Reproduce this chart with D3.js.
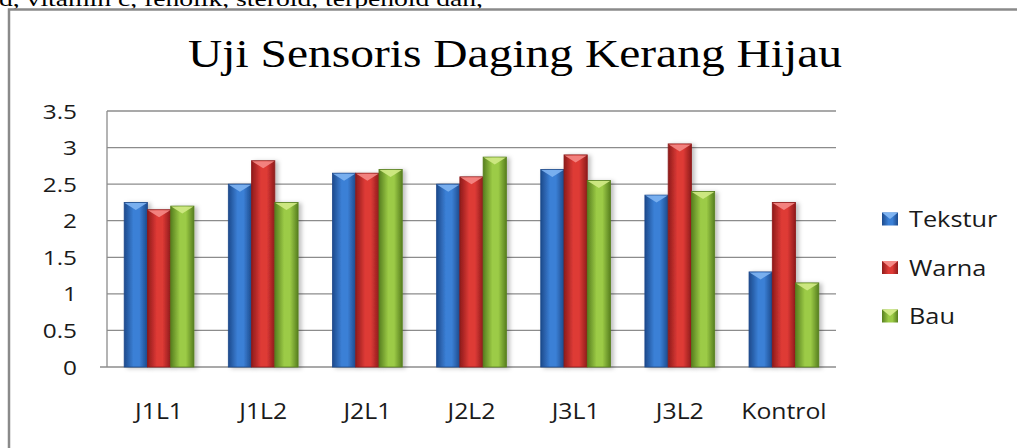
<!DOCTYPE html>
<html>
<head>
<meta charset="utf-8">
<script src="https://cdn.jsdelivr.net/npm/d3@7"></script>
<style>
  html, body { margin: 0; padding: 0; background: #fff; overflow: hidden; }
  svg { display: block; }
</style>
</head>
<body>
<svg id="chart" width="1017" height="448"></svg>
<script>
// ---- data ----
const categories = ["J1L1", "J1L2", "J2L1", "J2L2", "J3L1", "J3L2", "Kontrol"];
const seriesNames = ["Tekstur", "Warna", "Bau"];
const tekstur = [2.25, 2.5, 2.65, 2.5, 2.7, 2.35, 1.3];
const warna   = [2.15, 2.82, 2.65, 2.6, 2.9, 3.05, 2.25];
const bau     = [2.2, 2.25, 2.7, 2.87, 2.55, 2.4, 1.15];
const yTicks = [0, 0.5, 1, 1.5, 2, 2.5, 3, 3.5];
const titleText = "Uji Sensoris Daging Kerang Hijau";
const topLineText = "d, vitamin c, fenolik, steroid, terpenoid dan,";

const seriesValues = [tekstur, warna, bau];
const palette = [
  { edge: "#1d4a8c", mid: "#3b80d6", light: "#7fb4f2" },
  { edge: "#8e1b1b", mid: "#de3a36", light: "#f58a86" },
  { edge: "#577f1f", mid: "#9ccb46", light: "#d2ea86" }
];

const svg = d3.select("#chart");
const defs = svg.append("defs");

palette.forEach((p, i) => {
  const g = defs.append("linearGradient").attr("id", "grad" + i)
    .attr("x1", "0%").attr("x2", "100%").attr("y1", "0%").attr("y2", "0%");
  g.append("stop").attr("offset", "0%").attr("stop-color", p.edge);
  g.append("stop").attr("offset", "40%").attr("stop-color", p.mid);
  g.append("stop").attr("offset", "65%").attr("stop-color", p.mid);
  g.append("stop").attr("offset", "100%").attr("stop-color", p.edge);
});
const flt = defs.append("filter").attr("id", "shadow")
  .attr("x", "-20%").attr("y", "-10%").attr("width", "160%").attr("height", "130%");
flt.append("feDropShadow").attr("dx", 3).attr("dy", 1).attr("stdDeviation", 2)
  .attr("flood-color", "#000").attr("flood-opacity", 0.25);

// page text fragment at top
svg.append("text")
  .attr("x", -1).attr("y", 5.5)
  .attr("font-family", "Liberation Serif, Times New Roman, serif")
  .attr("font-size", 21)
  .attr("textLength", 484).attr("lengthAdjust", "spacingAndGlyphs")
  .attr("fill", "#000")
  .text(topLineText);

// chart frame
svg.append("rect")
  .attr("x", 9).attr("y", 9.5).attr("width", 1100).attr("height", 500)
  .attr("fill", "#fff").attr("stroke", "#8a8a8a").attr("stroke-width", 2.5);

// title
svg.append("text")
  .attr("x", 188).attr("y", 67)
  .attr("font-family", "Liberation Serif, Times New Roman, serif")
  .attr("font-size", 40)
  .attr("textLength", 654).attr("lengthAdjust", "spacingAndGlyphs")
  .attr("fill", "#000")
  .text(titleText);

// scales
const plotLeft = 107, plotRight = 836, plotTop = 111, plotBottom = 367;
const x = d3.scaleBand().domain(categories).range([plotLeft, plotRight])
  .paddingInner(0.33).paddingOuter(0.165);
const xs = d3.scaleBand().domain(seriesNames).range([0, x.bandwidth()]).padding(0);
const y = d3.scaleLinear().domain([0, 3.5]).range([plotBottom, plotTop]);

// gridlines
svg.append("g").selectAll("line").data(yTicks).join("line")
  .attr("x1", d => d === 0 ? plotLeft - 7 : plotLeft).attr("x2", plotRight)
  .attr("y1", d => y(d)).attr("y2", d => y(d))
  .attr("stroke", "#8c8c8c").attr("stroke-width", 1.3);
svg.append("line")
  .attr("x1", plotLeft).attr("x2", plotLeft).attr("y1", plotTop).attr("y2", plotBottom)
  .attr("stroke", "#8c8c8c").attr("stroke-width", 1.3);

// y labels
const sansFont = "Open Sans, Noto Sans, sans-serif";
svg.append("g").selectAll("text").data(yTicks).join("text")
  .attr("transform", d => `translate(77,${y(d) + 7.5}) scale(1.22,1)`)
  .attr("text-anchor", "end")
  .attr("font-family", sansFont).attr("font-size", 20)
  .attr("fill", "#1a1a1a")
  .text(d => d3.format("")(d));

// x labels
svg.append("g").selectAll("text").data(categories).join("text")
  .attr("transform", d => `translate(${x(d) + x.bandwidth() / 2},419) scale(1.18,1)`)
  .attr("text-anchor", "middle")
  .attr("font-family", sansFont).attr("font-size", 21)
  .attr("fill", "#1a1a1a")
  .text(d => d);

// bars
const barData = [];
categories.forEach((c, ci) => {
  seriesNames.forEach((s, si) => {
    barData.push({ cat: c, series: s, si: si, value: seriesValues[si][ci] });
  });
});
const bars = svg.append("g").selectAll("g").data(barData).join("g");
bars.append("rect")
  .attr("x", d => x(d.cat) + xs(d.series))
  .attr("y", d => y(d.value))
  .attr("width", xs.bandwidth())
  .attr("height", d => y(0) - y(d.value))
  .attr("fill", d => `url(#grad${d.si})`)
  .attr("stroke", d => palette[d.si].edge).attr("stroke-width", 0.8)
  .attr("filter", "url(#shadow)");
bars.append("path")
  .attr("d", d => {
    const x0 = x(d.cat) + xs(d.series) + 0.5, x1 = x0 + xs.bandwidth() - 1;
    const t = y(d.value) + 0.5;
    return `M${x0},${t}L${x1},${t}L${(x0 + x1) / 2},${t + 7}Z`;
  })
  .attr("fill", d => palette[d.si].light).attr("opacity", 0.9);

// legend
const legend = svg.append("g").selectAll("g").data(seriesNames).join("g")
  .attr("transform", (d, i) => `translate(882,${219 + i * 48.5})`);
legend.append("rect")
  .attr("x", 0).attr("y", -6.5).attr("width", 16).attr("height", 13)
  .attr("fill", (d, i) => `url(#grad${i})`);
legend.append("path")
  .attr("d", "M0,-6.5L16,-6.5L8,0Z")
  .attr("fill", (d, i) => palette[i].light);
legend.append("text")
  .attr("transform", "translate(27,8) scale(1.15,1)")
  .attr("font-family", sansFont).attr("font-size", 22)
  .attr("fill", "#1a1a1a")
  .text(d => d);
</script>
</body>
</html>
